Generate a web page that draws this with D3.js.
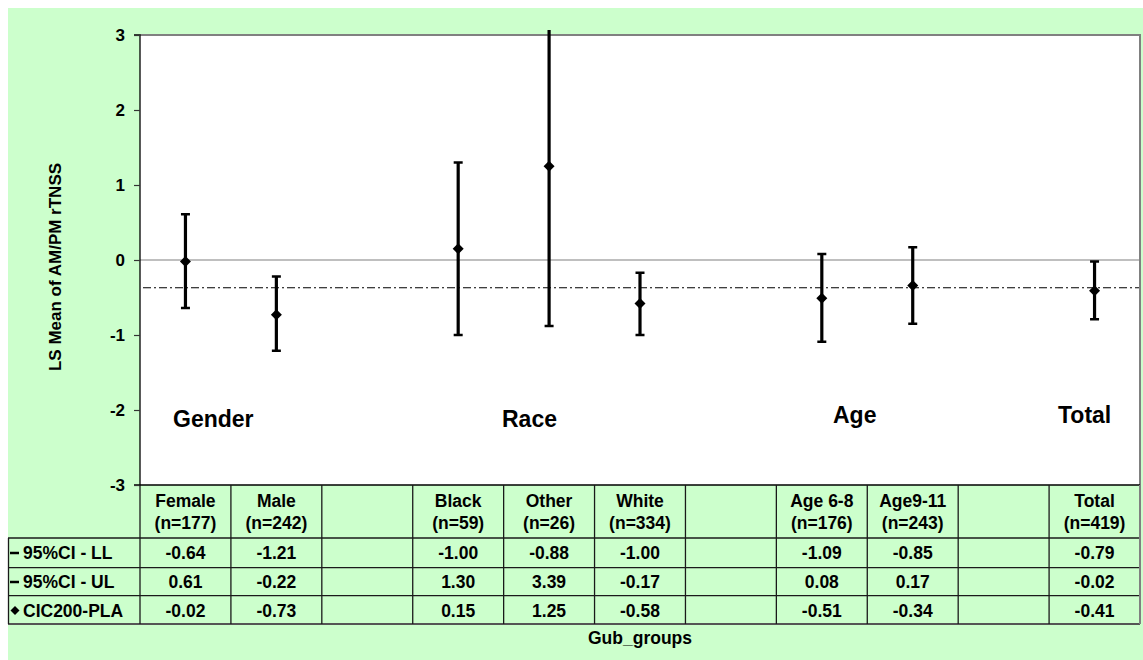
<!DOCTYPE html>
<html>
<head>
<meta charset="utf-8">
<script src="https://cdn.jsdelivr.net/npm/d3@7"></script>
<style>
  html, body { margin: 0; padding: 0; background: #ffffff; }
  svg { display: block; font-family: "Liberation Sans", Arial, sans-serif; font-weight: bold; }
</style>
</head>
<body>
<svg id="chart" width="1143" height="660"></svg>
<script>
// Subgroup columns (blank columns separate the groups)
const columnNames = ["Female", "Male", "", "Black", "Other", "White", "", "Age 6-8", "Age9-11", "", "Total"];
const columnCounts = ["(n=177)", "(n=242)", "", "(n=59)", "(n=26)", "(n=334)", "", "(n=176)", "(n=243)", "", "(n=419)"];

// LS mean difference CIC200 - placebo with 95% CI
const ciLower = [-0.64, -1.21, null, -1.00, -0.88, -1.00, null, -1.09, -0.85, null, -0.79];
const ciUpper = [0.61, -0.22, null, 1.30, 3.39, -0.17, null, 0.08, 0.17, null, -0.02];
const estimate = [-0.02, -0.73, null, 0.15, 1.25, -0.58, null, -0.51, -0.34, null, -0.41];

const rowLabels = ["95%CI - LL", "95%CI - UL", "CIC200-PLA"];
const yTicks = [-3, -2, -1, 0, 1, 2, 3];
const referenceLevel = -0.37;

const groupLabels = ["Gender", "Race", "Age", "Total"];

// ---- layout ----
const W = 1143, H = 660;
const plot = { left: 140, right: 1140, top: 35, bottom: 485 };
const tableRows = [485, 538, 567.7, 595.7, 624];
const green = "#CCFFCC";
const groupLabelPos = [[173, 427], [502, 427], [833, 423], [1058, 423]];

const svg = d3.select("#chart");

svg.append("rect").attr("x", 8).attr("y", 8).attr("width", W - 8).attr("height", H - 8).attr("fill", green);
svg.append("rect").attr("x", plot.left).attr("y", plot.top)
  .attr("width", plot.right - plot.left).attr("height", plot.bottom - plot.top).attr("fill", "#ffffff");

const x = d3.scaleBand().domain(d3.range(columnNames.length)).range([plot.left, plot.right]);
const y = d3.scaleLinear().domain([-3, 3]).range([plot.bottom, plot.top]);

// zero line
svg.append("line").attr("x1", plot.left).attr("x2", plot.right)
  .attr("y1", y(0)).attr("y2", y(0)).attr("stroke", "#808080").attr("stroke-width", 1.2);

// reference line
svg.append("line").attr("x1", plot.left + 3).attr("x2", plot.right)
  .attr("y1", y(referenceLevel)).attr("y2", y(referenceLevel))
  .attr("stroke", "#000").attr("stroke-width", 1.2).attr("stroke-dasharray", "8,3,2,3");

// plot frame top / right
svg.append("path")
  .attr("d", `M${plot.left},${plot.top}H${plot.right}V${plot.bottom}`)
  .attr("fill", "none").attr("stroke", "#808080").attr("stroke-width", 2);

// y axis
const yAxis = d3.axisLeft(y).tickValues(yTicks).tickSize(6).tickPadding(9).tickFormat(d => String(d));
const ax = svg.append("g").attr("transform", `translate(${plot.left},0)`).call(yAxis);
ax.select(".domain").attr("stroke", "#000").attr("stroke-width", 1.3).attr("d", `M-6,${plot.top}H0V${plot.bottom}H-6`);
ax.selectAll(".tick line").attr("stroke", "#333").attr("stroke-width", 1.2);
ax.selectAll(".tick text").attr("font-size", 17).attr("font-weight", "bold")
  .attr("font-family", "'Liberation Sans', Arial, sans-serif").attr("fill", "#000");

svg.append("text")
  .attr("transform", `translate(61,267) rotate(-90)`)
  .attr("text-anchor", "middle").attr("font-size", 17).text("LS Mean of AM/PM rTNSS");

// group annotations
svg.selectAll("text.group").data(groupLabels).enter().append("text")
  .attr("class", "group")
  .attr("x", (d, i) => groupLabelPos[i][0]).attr("y", (d, i) => groupLabelPos[i][1])
  .attr("font-size", 23).text(d => d);

// error bars
svg.append("clipPath").attr("id", "clip").append("rect")
  .attr("x", plot.left).attr("y", plot.top - 5).attr("width", plot.right - plot.left).attr("height", plot.bottom - plot.top + 5);

const idx = d3.range(columnNames.length).filter(i => estimate[i] !== null);
const cx = i => x(i) + x.bandwidth() / 2;
const bars = svg.append("g").attr("clip-path", "url(#clip)");
const g = bars.selectAll("g.bar").data(idx).enter().append("g").attr("class", "bar");
g.append("line").attr("x1", cx).attr("x2", cx)
  .attr("y1", i => y(ciLower[i])).attr("y2", i => y(ciUpper[i]))
  .attr("stroke", "#000").attr("stroke-width", 3.2);
g.append("line").attr("x1", i => cx(i) - 4.5).attr("x2", i => cx(i) + 4.5)
  .attr("y1", i => y(ciLower[i])).attr("y2", i => y(ciLower[i]))
  .attr("stroke", "#000").attr("stroke-width", 2.5);
g.filter(i => ciUpper[i] <= 3).append("line").attr("x1", i => cx(i) - 4.5).attr("x2", i => cx(i) + 4.5)
  .attr("y1", i => y(ciUpper[i])).attr("y2", i => y(ciUpper[i]))
  .attr("stroke", "#000").attr("stroke-width", 2.5);
g.append("path")
  .attr("d", i => { const px = cx(i), py = y(estimate[i]); return `M${px},${py - 5.5}L${px + 5.5},${py}L${px},${py + 5.5}L${px - 5.5},${py}Z`; })
  .attr("fill", "#000");

// data table
const tbl = svg.append("g");
const lineCol = "#1a1a1a";
// horizontal rules
tableRows.slice(1, 4).forEach(ry => {
  tbl.append("line").attr("x1", 8).attr("x2", plot.right).attr("y1", ry).attr("y2", ry)
    .attr("stroke", lineCol).attr("stroke-width", 1.3);
});
tbl.append("line").attr("x1", 8).attr("x2", plot.right).attr("y1", tableRows[4]).attr("y2", tableRows[4])
  .attr("stroke", "#555").attr("stroke-width", 2);
tbl.append("line").attr("x1", plot.left).attr("x2", plot.right).attr("y1", tableRows[0]).attr("y2", tableRows[0])
  .attr("stroke", "#000").attr("stroke-width", 1.3);
// vertical rules
d3.range(1, columnNames.length).forEach(i => {
  tbl.append("line").attr("x1", x(i)).attr("x2", x(i)).attr("y1", tableRows[0]).attr("y2", tableRows[4])
    .attr("stroke", lineCol).attr("stroke-width", 1.3);
});
tbl.append("line").attr("x1", plot.left).attr("x2", plot.left).attr("y1", plot.bottom).attr("y2", tableRows[4])
  .attr("stroke", lineCol).attr("stroke-width", 1.3);
tbl.append("line").attr("x1", 8.5).attr("x2", 8.5).attr("y1", tableRows[1]).attr("y2", tableRows[4])
  .attr("stroke", lineCol).attr("stroke-width", 1.3);
tbl.append("line").attr("x1", plot.right).attr("x2", plot.right).attr("y1", tableRows[0]).attr("y2", tableRows[4])
  .attr("stroke", "#808080").attr("stroke-width", 2);

// header cells
const hdr = tbl.selectAll("g.hdr").data(d3.range(columnNames.length)).enter().append("g");
hdr.append("text").attr("x", cx).attr("y", 507).attr("text-anchor", "middle").attr("font-size", 17.5).text(i => columnNames[i]);
hdr.append("text").attr("x", cx).attr("y", 529).attr("text-anchor", "middle").attr("font-size", 17.5).text(i => columnCounts[i]);

// value rows
const fmt = d3.format(".2f");
const rowSeries = [ciLower, ciUpper, estimate];
const rowBase = [559, 588, 616.5];
rowSeries.forEach((series, r) => {
  tbl.selectAll(null).data(idx).enter().append("text")
    .attr("x", cx).attr("y", rowBase[r]).attr("text-anchor", "middle").attr("font-size", 17.5)
    .text(i => fmt(series[i]).replace("−", "-"));
  tbl.append("text").attr("x", 23).attr("y", rowBase[r]).attr("font-size", 17.5).text(rowLabels[r]);
});
// legend keys in row labels
[0, 1].forEach(r => {
  tbl.append("line").attr("x1", 10).attr("x2", 19).attr("y1", rowBase[r] - 6).attr("y2", rowBase[r] - 6)
    .attr("stroke", "#000").attr("stroke-width", 2.5);
});
tbl.append("path")
  .attr("d", () => { const px = 15, py = rowBase[2] - 6; return `M${px},${py - 4.5}L${px + 4.5},${py}L${px},${py + 4.5}L${px - 4.5},${py}Z`; })
  .attr("fill", "#000");

svg.append("text").attr("x", (plot.left + plot.right) / 2).attr("y", 644)
  .attr("text-anchor", "middle").attr("font-size", 17.5).text("Gub_groups");
</script>
</body>
</html>
